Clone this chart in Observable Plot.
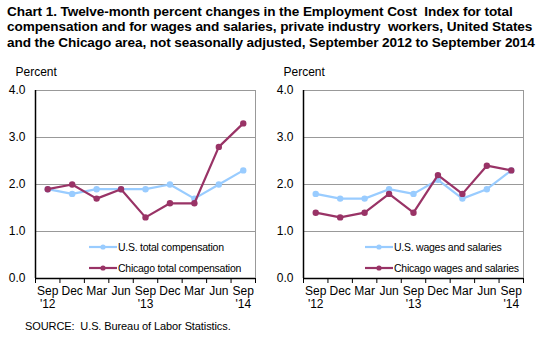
<!DOCTYPE html>
<html>
<head>
<meta charset="utf-8">
<script src="https://cdn.jsdelivr.net/npm/d3@7"></script>
<script src="https://cdn.jsdelivr.net/npm/@observablehq/plot@0.6"></script>
<style>
  body { margin: 0; background: #fff; font-family: "Liberation Sans", Arial, sans-serif; }
  #wrap { position: relative; width: 557px; height: 356px; overflow: hidden; }
  #title { position: absolute; left: 7px; top: 4px; font-weight: bold; font-size: 13.6px; line-height: 15.3px; color: #000; white-space: pre; letter-spacing: -0.1px; }
  .panel { position: absolute; top: 60px; }
  .legend { position: absolute; font-size: 10.5px; color: #000; white-space: nowrap; letter-spacing: -0.25px; }
  .legend .row { position: absolute; left: 0; height: 14px; display: flex; align-items: center; }
  .legend svg { margin-right: 1px; }
  #source { position: absolute; left: 25px; top: 320px; font-size: 11px; white-space: pre; letter-spacing: -0.1px; }
</style>
</head>
<body>
<div id="wrap">
  <div id="title">Chart 1. Twelve-month percent changes in the Employment Cost  Index for total
compensation and for wages and salaries, private industry  workers, United States
and the Chicago area, not seasonally adjusted, September 2012 to September 2014</div>
  <div id="left" class="panel" style="left:0px"></div>
  <div id="right" class="panel" style="left:268px"></div>
  <div id="source">SOURCE:  U.S. Bureau of Labor Statistics.</div>
</div>
<script>
const quarters = ["Sep\n'12", "Dec", "Mar", "Jun", "Sep\n'13", "Dec", "Mar", "Jun", "Sep\n'14"];
const usTotalComp = [1.9, 1.8, 1.9, 1.9, 1.9, 2.0, 1.7, 2.0, 2.3];
const chicagoTotalComp = [1.9, 2.0, 1.7, 1.9, 1.3, 1.6, 1.6, 2.8, 3.3];
const usWages = [1.8, 1.7, 1.7, 1.9, 1.8, 2.1, 1.7, 1.9, 2.3];
const chicagoWages = [1.4, 1.3, 1.4, 1.8, 1.4, 2.2, 1.8, 2.4, 2.3];
const yTicks = [0, 1, 2, 3, 4];
const blue = "#99CCFF";
const maroon = "#993366";

function panel(usVals, chiVals, usLabel, chiLabel, legendLeft) {
  const idx = d3.range(quarters.length);
  const us = idx.map(i => ({i, v: usVals[i]}));
  const chi = idx.map(i => ({i, v: chiVals[i]}));
  const bounds = d3.range(quarters.length + 1).map(k => k - 0.5);
  const chart = Plot.plot({
    width: 278,
    height: 270,
    marginLeft: 35,
    marginRight: 23,
    marginTop: 30,
    marginBottom: 52,
    style: {fontFamily: "Liberation Sans, Arial, sans-serif", fontSize: "12px", color: "#000", background: "#fff"},
    x: {domain: [-0.5, quarters.length - 0.5], axis: null},
    y: {domain: [0, 4], axis: null},
    marks: [
      Plot.gridY([1, 2, 3], {stroke: "#999", strokeOpacity: 1, strokeWidth: 1}),
      Plot.ruleY([4], {stroke: "#999", strokeWidth: 1}),
      Plot.ruleX([quarters.length - 0.5], {stroke: "#999", strokeWidth: 1}),
      Plot.axisY(yTicks, {tickSize: 0, tickPadding: 10, tickFormat: d3.format(".1f"), label: null, fontSize: 12}),
      Plot.axisX(bounds, {tickSize: 5, tickFormat: () => "", label: null, stroke: "#000"}),
      Plot.axisX(idx, {tickSize: 0, tickPadding: 7, tickFormat: i => quarters[i], label: null, fontSize: 12, lineHeight: 1.1}),
      Plot.ruleX([-0.5], {stroke: "#000", strokeWidth: 1.5}),
      Plot.ruleY([0], {stroke: "#000", strokeWidth: 1.5}),
      Plot.text(["Percent"], {frameAnchor: "top-left", dx: -20, dy: -23, textAnchor: "start", fontSize: 12}),
      Plot.line(us, {x: "i", y: "v", stroke: blue, strokeWidth: 2.2}),
      Plot.dot(us, {x: "i", y: "v", fill: blue, r: 3.2}),
      Plot.line(chi, {x: "i", y: "v", stroke: maroon, strokeWidth: 2.2}),
      Plot.dot(chi, {x: "i", y: "v", fill: maroon, r: 3.2})
    ]
  });
  const holder = document.createElement("div");
  holder.style.position = "relative";
  holder.appendChild(chart);
  const leg = document.createElement("div");
  leg.className = "legend";
  leg.style.left = legendLeft + "px";
  leg.style.top = "180px";
  const mk = (color, label, top) => {
    const row = document.createElement("div");
    row.className = "row";
    row.style.top = top + "px";
    row.innerHTML = `<svg width="28" height="10"><line x1="0" x2="28" y1="5" y2="5" stroke="${color}" stroke-width="2.2"/><circle cx="14" cy="5" r="2.6" fill="${color}"/></svg><span>${label}</span>`;
    return row;
  };
  leg.appendChild(mk(blue, usLabel, 0));
  leg.appendChild(mk(maroon, chiLabel, 21));
  holder.appendChild(leg);
  return holder;
}

document.getElementById("left").appendChild(panel(usTotalComp, chicagoTotalComp, "U.S. total compensation", "Chicago total compensation", 89));
document.getElementById("right").appendChild(panel(usWages, chicagoWages, "U.S. wages and salaries", "Chicago wages and salaries", 97));
</script>
</body>
</html>
